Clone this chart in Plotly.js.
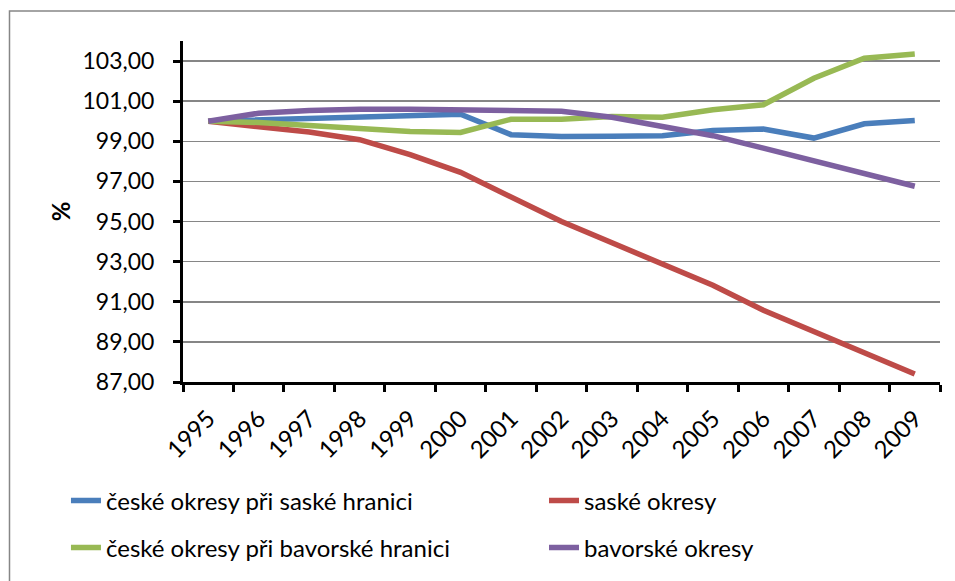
<!DOCTYPE html>
<html>
<head>
<meta charset="utf-8">
<script src="https://cdn.plot.ly/plotly-3.0.1.min.js"></script>
<style>html,body{margin:0;padding:0;background:#fff;}#chart{width:955px;height:581px;}</style>
</head>
<body>
<div id="chart"></div>
<script>
const years = ["1995","1996","1997","1998","1999","2000","2001","2002","2003","2004","2005","2006","2007","2008","2009"];
const nameCzSax = "české okresy při saské hranici";
const nameSax = "saské okresy";
const nameCzBav = "české okresy při bavorské hranici";
const nameBav = "bavorské okresy";
const czSax = [100.00,100.07,100.16,100.27,100.32,100.35,99.33,99.24,99.25,99.28,99.54,99.61,99.16,99.87,100.04];
const sax   = [100.00,99.74,99.46,99.08,98.33,97.45,96.24,95.00,93.94,92.86,91.82,90.58,89.50,88.48,87.40];
const czBav = [100.00,99.94,99.79,99.64,99.49,99.44,100.10,100.10,100.24,100.20,100.57,100.82,102.14,103.14,103.35];
const bav   = [100.00,100.40,100.53,100.60,100.60,100.55,100.52,100.50,100.20,99.77,99.28,98.66,98.03,97.42,96.76];

const FONT = "Lato, 'Open Sans', sans-serif";
function tr(y, name, color, legend){
  return {x: years, y: y, name: name, type: "scatter", mode: "lines",
          line: {color: color, width: 5.5}, legend: legend};
}
const data = [
  tr(czSax, nameCzSax, "#4A7EBB", "legend"),
  tr(sax, nameSax, "#BE4B48", "legend2"),
  tr(czBav, nameCzBav, "#98B954", "legend3"),
  tr(bav, nameBav, "#7D60A0", "legend4")
];
function leg(x, y){
  return {x: x, y: y, orientation: "h", xanchor: "left", yanchor: "middle",
    font: {family: FONT, size: 24, color: "#000"},
    bgcolor: "rgba(0,0,0,0)", borderwidth: 0};
}
const xc1 = -0.1546, xc2 = 0.4769, yr1 = -0.345, yr2 = -0.4825;
const layout = {
  width: 955, height: 581,
  margin: {l: 183, r: 15, t: 41, b: 198},
  paper_bgcolor: "#fff", plot_bgcolor: "#fff",
  separators: ", ",
  font: {family: FONT, size: 24, color: "#000"},
  showlegend: true,
  xaxis: {type: "category", range: [-0.5, 14.5], tickson: "boundaries",
    ticks: "outside", ticklen: 7, tickwidth: 3, tickcolor: "#000",
    showline: true, linecolor: "#000", linewidth: 3, showgrid: false,
    tickangle: -45, ticklabelstandoff: 10,
    tickfont: {family: FONT, size: 24, color: "#000"}},
  yaxis: {range: [87, 104], tick0: 87, dtick: 2, tickformat: ".2f",
    ticks: "outside", ticklen: 7, tickwidth: 3, tickcolor: "#000",
    showline: true, linecolor: "#000", linewidth: 3,
    showgrid: true, gridcolor: "#868686", gridwidth: 1.5, zeroline: false,
    ticklabelstandoff: 14,
    tickfont: {family: FONT, size: 23, color: "#000"},
    title: {text: "%", font: {family: FONT, size: 24, color: "#000", weight: "bold"}, standoff: 6}},
  legend: leg(xc1, yr1),
  legend2: leg(xc2, yr1),
  legend3: leg(xc1, yr2),
  legend4: leg(xc2, yr2),
  shapes: [{type: "rect", xref: "paper", yref: "paper",
    x0: -0.2292, x1: 1.2, y0: -0.9, y1: 1.0877,
    line: {color: "#868686", width: 1.5}, fillcolor: "rgba(0,0,0,0)", layer: "below"}]
};
Plotly.newPlot("chart", data, layout, {displayModeBar: false, staticPlot: true});
</script>
</body>
</html>
